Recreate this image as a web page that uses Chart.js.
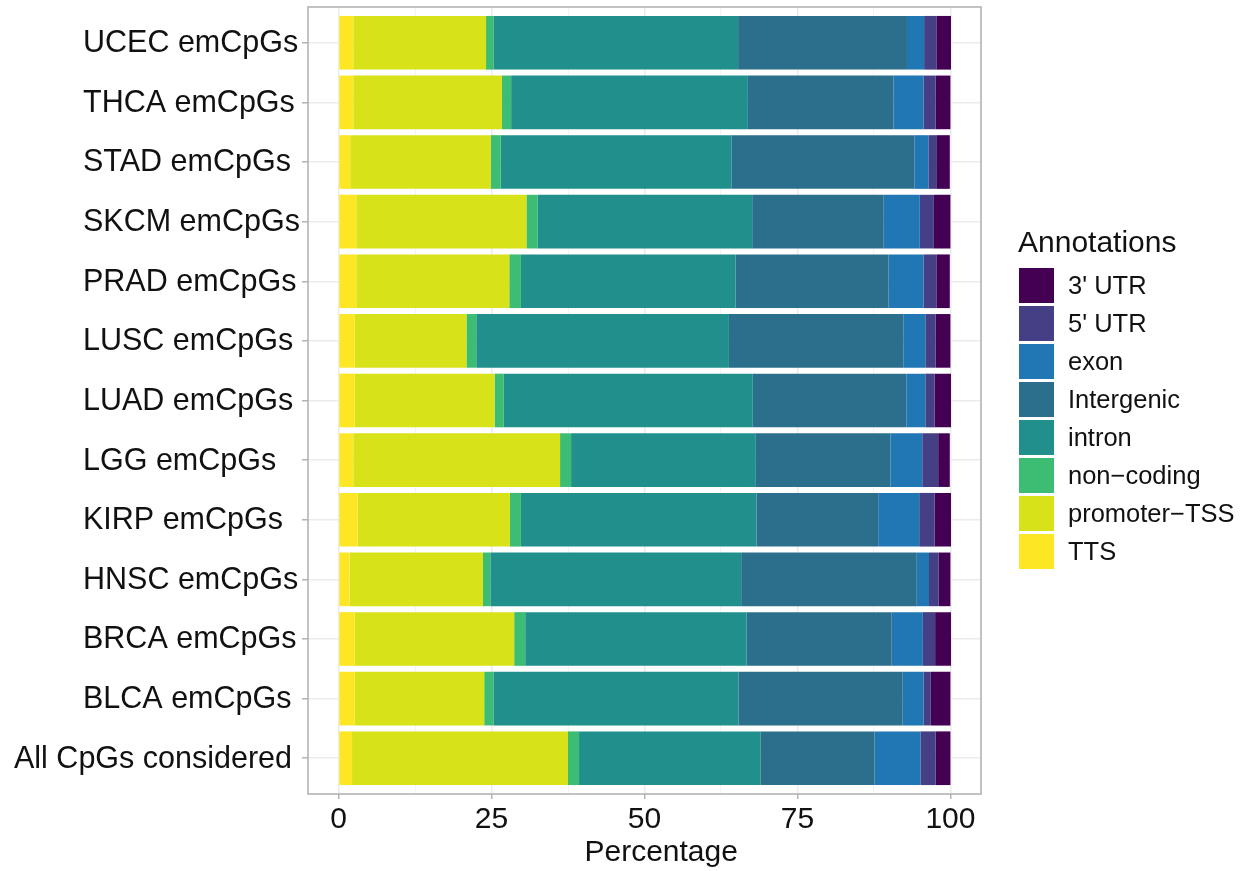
<!DOCTYPE html>
<html>
<head>
<meta charset="utf-8">
<script src="https://cdn.jsdelivr.net/npm/chart.js@4"></script>
<style>
  html, body { margin: 0; padding: 0; background: #ffffff; }
  #wrap { width: 1252px; height: 871px; position: relative; }
</style>
</head>
<body>
<div id="wrap"><canvas id="annotationChart"></canvas></div>
<script>
// Define categories (top to bottom)
const categories = [
  "UCEC emCpGs", "THCA emCpGs", "STAD emCpGs", "SKCM emCpGs",
  "PRAD emCpGs", "LUSC emCpGs", "LUAD emCpGs", "LGG emCpGs",
  "KIRP emCpGs", "HNSC emCpGs", "BRCA emCpGs", "BLCA emCpGs",
  "All CpGs considered",
];

// Percentage of CpGs in each annotation, same order as categories
const tts        = [2.4, 2.4, 1.9, 2.9, 2.9, 2.6, 2.6, 2.4, 3.1, 1.8, 2.6, 2.6, 2.2];
const promoter   = [21.7, 24.3, 23.0, 27.8, 25.0, 18.3, 22.9, 33.8, 24.9, 21.8, 26.1, 21.2, 35.3];
const nonCoding  = [1.2, 1.5, 1.6, 1.8, 1.9, 1.6, 1.5, 1.8, 1.8, 1.2, 1.8, 1.5, 1.8];
const intron     = [40.0, 38.7, 37.7, 35.1, 35.1, 41.3, 40.7, 30.2, 38.5, 41.0, 36.2, 40.1, 29.7];
const intergenic = [27.6, 23.8, 29.9, 21.5, 25.0, 28.5, 25.1, 22.0, 19.9, 28.7, 23.7, 26.8, 18.6];
const exon       = [2.8, 4.9, 2.3, 5.9, 5.7, 3.6, 3.1, 5.2, 6.7, 2.0, 5.1, 3.4, 7.5];
const utr5       = [2.0, 2.0, 1.4, 2.3, 2.1, 1.7, 1.5, 2.6, 2.5, 1.6, 2.0, 1.2, 2.5];
const utr3       = [2.4, 2.4, 2.1, 2.7, 2.2, 2.4, 2.7, 1.9, 2.7, 1.9, 2.6, 3.2, 2.4];

// x axis ticks (labelled every 25, minor grid in between)
const xTicks = [0, 12.5, 25, 37.5, 50, 62.5, 75, 87.5, 100];

// Annotation series, stacked left to right
const series = [
  { label: "TTS",          data: tts,        color: "#FDE725" },
  { label: "promoter\u2212TSS", data: promoter, color: "#D8E219" },
  { label: "non\u2212coding",   data: nonCoding, color: "#3DBC74" },
  { label: "intron",       data: intron,     color: "#21908D" },
  { label: "Intergenic",   data: intergenic, color: "#2C6F8C" },
  { label: "exon",         data: exon,       color: "#2077B4" },
  { label: "5' UTR",       data: utr5,       color: "#453F85" },
  { label: "3' UTR",       data: utr3,       color: "#440154" },
];

const FONT = "'Liberation Sans', Arial, Helvetica, sans-serif";
const TEXT_COLOR = "#111111";

// Build bar datasets on a numeric category axis
function buildDatasets() {
  return series.map((s) => ({
    label: s.label,
    data: s.data.map((v, i) => ({ x: v, y: i })),
    backgroundColor: s.color,
    borderWidth: 0,
    categoryPercentage: 0.9,
    barPercentage: 1,
  }));
}

// Panel border around the plotting area
const panelBorder = {
  id: "panelBorder",
  afterDatasetsDraw(chart) {
    const { ctx, chartArea: a } = chart;
    ctx.save();
    ctx.strokeStyle = "#B3B3B3";
    ctx.lineWidth = 1.6;
    ctx.strokeRect(a.left, a.top, a.right - a.left, a.bottom - a.top);
    ctx.restore();
  },
};

// Category labels: one left-aligned column, long labels pushed against the axis
const categoryLabels = {
  id: "categoryLabels",
  afterDraw(chart) {
    const { ctx, chartArea: a } = chart;
    const yScale = chart.scales.y;
    const columnX = 83;
    const rightLimit = a.left - 16;
    ctx.save();
    ctx.font = "30.5px " + FONT;
    ctx.fillStyle = TEXT_COLOR;
    ctx.textBaseline = "middle";
    categories.forEach((name, i) => {
      const y = yScale.getPixelForValue(i) + 1;
      const w = ctx.measureText(name).width;
      if (columnX + w > rightLimit + 8) {
        ctx.textAlign = "right";
        ctx.fillText(name, rightLimit, y);
      } else {
        ctx.textAlign = "left";
        ctx.fillText(name, columnX, y);
      }
    });
    ctx.restore();
  },
};

// Legend drawn to the right of the panel, 3' UTR on top
const annotationLegend = {
  id: "annotationLegend",
  afterDraw(chart) {
    const { ctx } = chart;
    const x = 1019;
    const top = 268;
    const box = 35;
    const step = 38;
    ctx.save();
    ctx.fillStyle = TEXT_COLOR;
    ctx.font = "30px " + FONT;
    ctx.textAlign = "left";
    ctx.textBaseline = "alphabetic";
    ctx.fillText("Annotations", x - 1, 252);
    ctx.font = "25.5px " + FONT;
    ctx.textBaseline = "middle";
    series.slice().reverse().forEach((s, i) => {
      const y = top + i * step;
      ctx.fillStyle = s.color;
      ctx.fillRect(x, y, box, box);
      ctx.fillStyle = TEXT_COLOR;
      ctx.fillText(s.label, x + 49, y + box / 2 + 1);
    });
    ctx.restore();
  },
};

function createChart(ctx) {
  return new Chart(ctx, {
    type: "bar",
    data: { datasets: buildDatasets() },
    options: {
      indexAxis: "y",
      responsive: true,
      maintainAspectRatio: false,
      animation: false,
      layout: { padding: { top: 7, right: 271, bottom: 0, left: 0 } },
      plugins: {
        legend: { display: false },
        tooltip: { enabled: false },
      },
      scales: {
        x: {
          type: "linear",
          stacked: true,
          min: -5,
          max: 105,
          afterBuildTicks: (scale) => {
            scale.ticks = xTicks.map((v) => ({ value: v }));
          },
          afterFit: (scale) => { scale.height = 77; },
          border: { display: false },
          grid: {
            color: (c) => (c.tick && c.tick.value % 25 === 0 ? "#EBEBEB" : "#F3F3F3"),
            lineWidth: (c) => (c.tick && c.tick.value % 25 === 0 ? 1.5 : 1),
            tickColor: (c) => (c.tick && c.tick.value % 25 === 0 ? "#B3B3B3" : "rgba(0,0,0,0)"),
            tickLength: 5,
          },
          ticks: {
            autoSkip: false,
            maxRotation: 0,
            padding: 3,
            color: TEXT_COLOR,
            font: { family: FONT, size: 30 },
            callback: (v) => (v % 25 === 0 ? String(v) : ""),
          },
          title: {
            display: true,
            // leading spaces nudge the title a little right of the panel centre
            text: "    Percentage",
            color: TEXT_COLOR,
            font: { family: FONT, size: 30 },
            padding: { top: 0, bottom: 0 },
          },
        },
        y: {
          type: "linear",
          stacked: true,
          reverse: true,
          offset: false,
          min: -0.6,
          max: categories.length - 0.4,
          afterBuildTicks: (scale) => {
            scale.ticks = categories.map((_, i) => ({ value: i }));
          },
          afterFit: (scale) => { scale.width = 308; },
          border: { display: false },
          grid: {
            offset: false,
            color: "#EBEBEB",
            lineWidth: 1.5,
            tickColor: "#B3B3B3",
            tickLength: 6,
          },
          ticks: { display: false },
        },
      },
    },
    plugins: [panelBorder, categoryLabels, annotationLegend],
  });
}

document.addEventListener("DOMContentLoaded", function () {
  const ctx = document.getElementById("annotationChart").getContext("2d");
  createChart(ctx);
});
</script>
</body>
</html>
